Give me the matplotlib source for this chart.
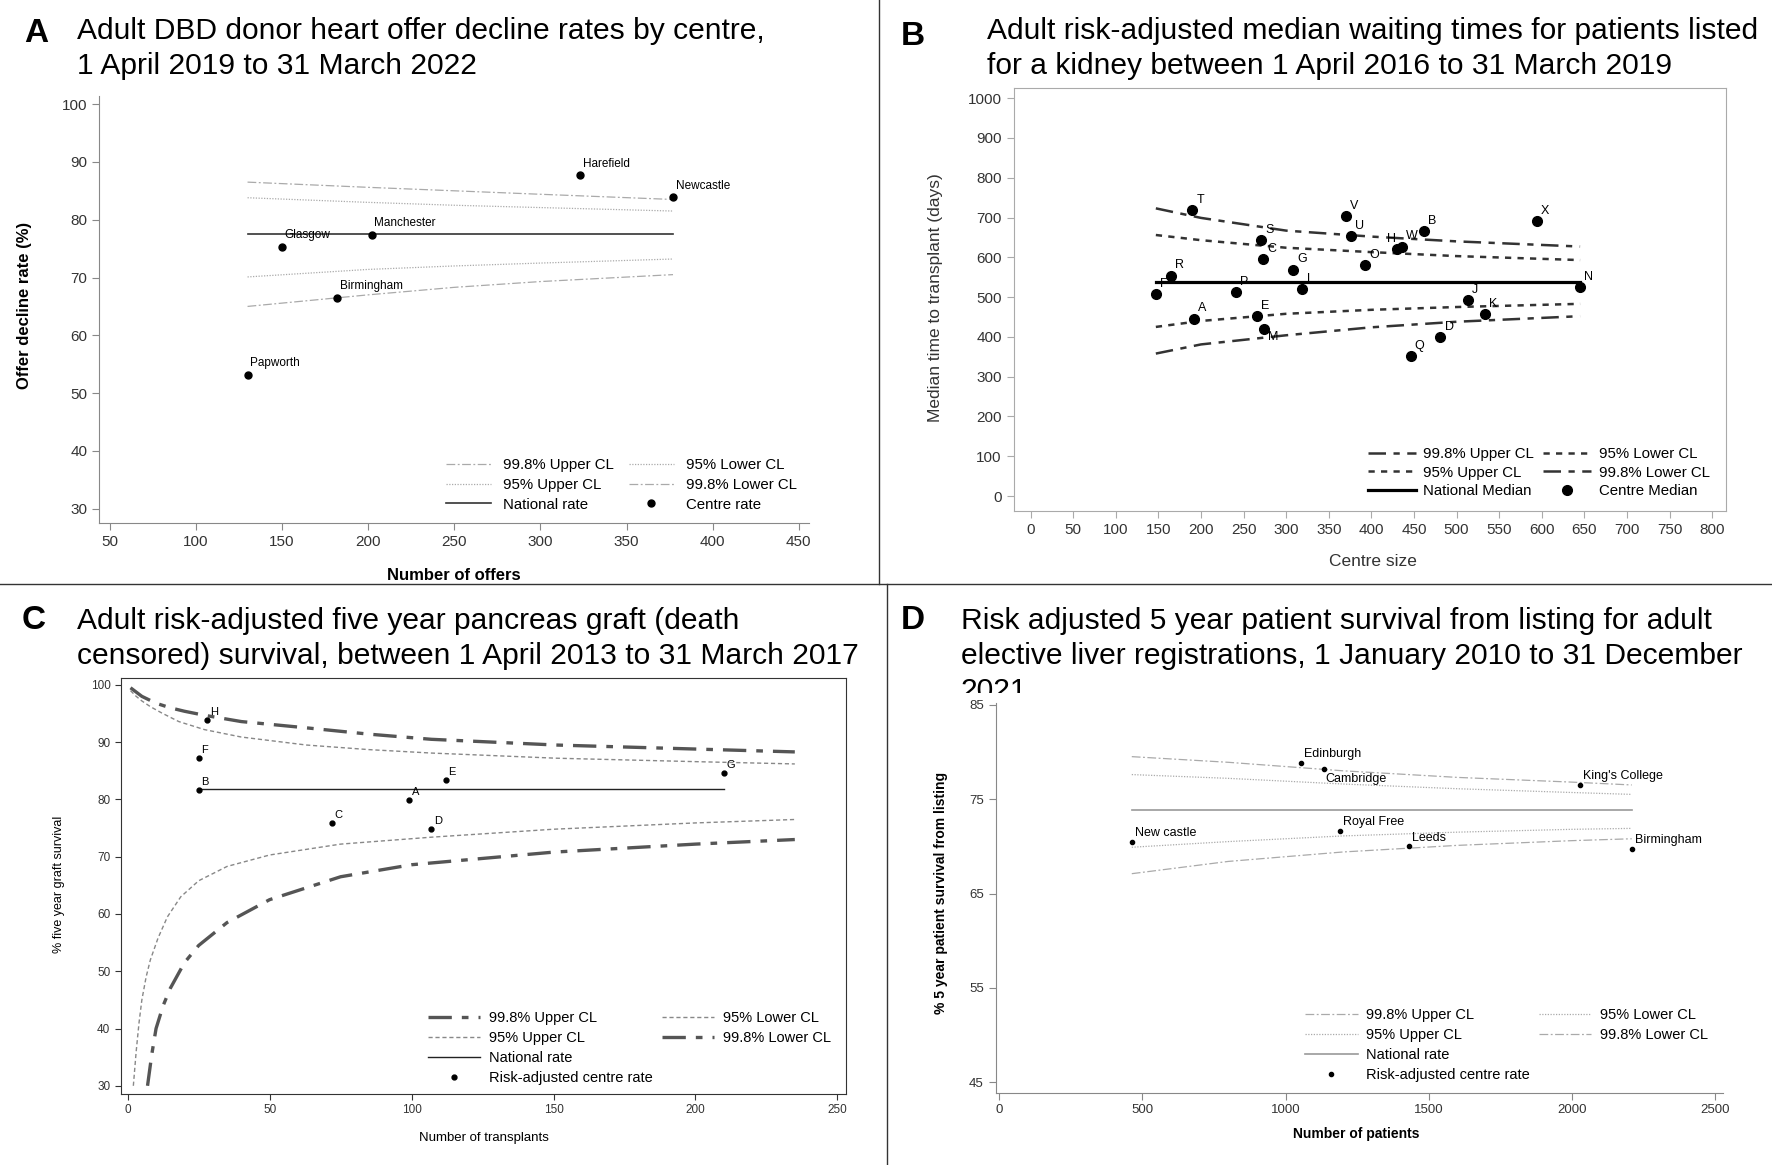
import matplotlib
matplotlib.use("Agg")
import matplotlib.pyplot as plt
from matplotlib.lines import Line2D
from matplotlib.patches import Rectangle

plt.rcParams['font.family'] = ['Liberation Sans', 'DejaVu Sans']

# ---------------- data ----------------
# A: heart offer decline rates
a_centres = ["Papworth", "Glasgow", "Birmingham", "Manchester", "Harefield", "Newcastle"]
a_offers = [130, 150, 182, 202, 323, 377]
a_rate = [53.2, 75.3, 66.5, 77.4, 87.7, 83.9]
a_national = 77.6
a_cl_x = [130, 200, 250, 300, 377]
a_upper998 = [86.5, 85.6, 85.0, 84.4, 83.5]
a_upper95 = [83.8, 83.0, 82.5, 82.1, 81.5]
a_lower95 = [70.1, 71.4, 72.0, 72.5, 73.2]
a_lower998 = [65.0, 67.0, 68.3, 69.3, 70.5]

# B: kidney waiting times
b_centres = ["A", "B", "C", "D", "E", "F", "G", "H", "J", "K", "L", "M",
             "N", "O", "P", "Q", "R", "S", "T", "U", "V", "W", "X"]
b_size = [192, 462, 273, 481, 266, 147, 308, 430, 513, 533, 319, 274,
          645, 393, 241, 446, 165, 271, 190, 376, 370, 436, 594]
b_median = [446, 665, 595, 400, 452, 508, 569, 621, 493, 458, 521, 421,
            526, 580, 512, 352, 554, 643, 718, 653, 703, 627, 692]
b_national = 537
b_cl_x = [147, 200, 300, 400, 500, 645]
b_upper998 = [723, 699, 667, 652, 640, 627]
b_upper95 = [656, 643, 624, 613, 603, 593]
b_lower95 = [425, 440, 458, 468, 475, 483]
b_lower998 = [358, 381, 404, 424, 438, 452]

# C: pancreas graft survival
c_centres = ["A", "B", "C", "D", "E", "F", "G", "H"]
c_transplants = [99, 25, 72, 107, 112, 25, 210, 28]
c_survival = [79.9, 81.7, 75.9, 74.9, 83.4, 87.2, 84.6, 93.9]
c_national = 81.8
c_upper998_x = [1, 5, 10, 15, 20, 27, 40, 63, 85, 107, 151, 200, 235]
c_upper998 = [99.5, 98.0, 96.8, 96.0, 95.4, 94.7, 93.6, 92.5, 91.4, 90.5, 89.5, 88.8, 88.3]
c_upper95_x = [1, 3, 5, 8, 12, 18, 27, 40, 63, 85, 107, 151, 200, 235]
c_upper95 = [99.0, 98.0, 97.2, 96.2, 95.1, 93.6, 92.2, 90.9, 89.5, 88.7, 88.1, 87.2, 86.6, 86.2]
c_lower95_x = [2, 3, 4, 5, 6.5, 8, 10.7, 14, 18.7, 25, 35, 50, 75, 106.7, 150, 200, 235]
c_lower95 = [30, 36, 41, 45, 49, 52, 55.8, 59.5, 63, 65.8, 68.3, 70.3, 72.2, 73.4, 74.8, 75.9, 76.5]
c_lower998_x = [7, 8.5, 10, 12.5, 15, 20, 25, 35, 50, 75, 100, 150, 200, 235]
c_lower998 = [30, 35.5, 40, 44, 47, 51.5, 54.5, 58.5, 62.5, 66.5, 68.6, 70.8, 72.2, 73.0]

# D: liver patient survival
d_centres = ["New castle", "Edinburgh", "Cambridge", "Royal Free", "Leeds",
             "King's College", "Birmingham"]
d_patients = [463, 1055, 1135, 1190, 1430, 2027, 2208]
d_survival = [70.5, 78.8, 78.2, 71.6, 70.0, 76.5, 69.7]
d_national = 73.8
d_cl_x = [463, 800, 1200, 1600, 2000, 2208]
d_upper998 = [79.5, 78.9, 78.0, 77.3, 76.8, 76.5]
d_upper95 = [77.6, 77.2, 76.6, 76.1, 75.7, 75.5]
d_lower95 = [69.9, 70.5, 71.1, 71.5, 71.8, 71.9]
d_lower998 = [67.1, 68.4, 69.4, 70.1, 70.6, 70.8]

fig = plt.figure(figsize=(17.72, 11.65), dpi=100)

# panel dividers
fig.add_artist(Line2D([0.4962, 0.4962], [1.0, 0.4985], transform=fig.transFigure, color='#333333', lw=1))
fig.add_artist(Line2D([0.5006, 0.5006], [0.4985, 0.0], transform=fig.transFigure, color='#333333', lw=1))
fig.add_artist(Line2D([0.0, 1.0], [0.4985, 0.4985], transform=fig.transFigure, color='#333333', lw=1))

# panel letters and titles
for letter, x, y in [("A", 0.0204, 0.971), ("B", 0.5153, 0.969), ("C", 0.0191, 0.4675), ("D", 0.5153, 0.4675)]:
    fig.text(x, y, letter, fontsize=24, fontweight='bold', ha='center', va='center')

title_kw = dict(fontsize=21.6, va='top', ha='left', linespacing=1.33)
fig.text(0.0434, 0.9854, "Adult DBD donor heart offer decline rates by centre,\n1 April 2019 to 31 March 2022", **title_kw)
fig.text(0.5568, 0.9854, "Adult risk-adjusted median waiting times for patients listed\nfor a kidney between 1 April 2016 to 31 March 2019", **title_kw)
fig.text(0.0434, 0.479, "Adult risk-adjusted five year pancreas graft (death\ncensored) survival, between 1 April 2013 to 31 March 2017", **title_kw)
fig.text(0.5421, 0.479, "Risk adjusted 5 year patient survival from listing for adult\nelective liver registrations, 1 January 2010 to 31 December\n2021",
         zorder=1, **title_kw)
# the liver chart area hides the bottom of the last title line
fig.add_artist(Rectangle((0.53, 0.3967), 0.46, 0.0087, transform=fig.transFigure,
                         facecolor='white', edgecolor='none', zorder=2))


def blank():
    return Line2D([], [], color='none')


# ---------------- A ----------------
ax = fig.add_axes([0.0561, 0.5509, 0.4005, 0.3667])
ls998 = (0, (7, 2, 1.5, 2))
ls95 = (0, (1, 1.2))
ax.plot(a_cl_x, a_upper998, color='#aaaaaa', lw=0.9, ls=ls998)
ax.plot(a_cl_x, a_upper95, color='#aaaaaa', lw=0.9, ls=ls95)
ax.plot(a_cl_x, a_lower95, color='#aaaaaa', lw=0.9, ls=ls95)
ax.plot(a_cl_x, a_lower998, color='#aaaaaa', lw=0.9, ls=ls998)
ax.plot([a_offers[0], a_offers[-1]], [a_national, a_national], color='#333333', lw=1.2)
ax.plot(a_offers, a_rate, 'o', color='black', ms=5)
for name, x, y in zip(a_centres, a_offers, a_rate):
    ax.annotate(name, (x, y), xytext=(2, 4), textcoords='offset points', fontsize=8.5, ha='left', va='bottom')
ax.set_xlim(44, 456)
ax.set_ylim(27.5, 101.4)
ax.set_xticks(range(50, 451, 50))
ax.set_yticks(range(30, 101, 10))
for s in ['top', 'right']:
    ax.spines[s].set_visible(False)
for s in ['left', 'bottom']:
    ax.spines[s].set_color('#888888')
ax.tick_params(colors='#888888', labelcolor='#333333', labelsize=11, length=5)
ax.set_ylabel("Offer decline rate (%)", fontsize=12, fontweight='bold', va='center')
ax.yaxis.set_label_coords(-0.105, 0.51)
ax.set_xlabel("Number of offers", fontsize=12, fontweight='bold', va='center')
ax.xaxis.set_label_coords(0.50, -0.122)
h = [Line2D([], [], color='#aaaaaa', lw=0.9, ls=ls998), Line2D([], [], color='#aaaaaa', lw=0.9, ls=ls95),
     Line2D([], [], color='#333333', lw=1.2), Line2D([], [], color='#aaaaaa', lw=0.9, ls=ls95),
     Line2D([], [], color='#aaaaaa', lw=0.9, ls=ls998), Line2D([], [], color='black', marker='o', ls='none', ms=5)]
lab = ["99.8% Upper CL", "95% Upper CL", "National rate", "95% Lower CL", "99.8% Lower CL", "Centre rate"]
ax.legend(h, lab, ncol=2, frameon=False, fontsize=10.8, handlelength=3.0, labelspacing=0.38,
          columnspacing=1.0, loc='lower right', bbox_to_anchor=(0.454, 0.5545), bbox_transform=fig.transFigure,
          borderpad=0, handletextpad=0.8)

# ---------------- B ----------------
ax = fig.add_axes([0.572, 0.5616, 0.4019, 0.3627])
ls998 = (0, (7, 3, 2.5, 3))
ls95 = (0, (2.5, 2.5))
ax.plot(b_cl_x, b_upper998, color='#333333', lw=1.8, ls=ls998)
ax.plot(b_cl_x, b_upper95, color='#333333', lw=1.8, ls=ls95)
ax.plot(b_cl_x, b_lower95, color='#333333', lw=1.8, ls=ls95)
ax.plot(b_cl_x, b_lower998, color='#333333', lw=1.8, ls=ls998)
ax.plot([b_cl_x[0], b_cl_x[-1]], [b_national, b_national], color='black', lw=2.3)
ax.plot(b_size, b_median, 'o', color='black', ms=7)
for name, x, y in zip(b_centres, b_size, b_median):
    off, ha, va = (3, 3), 'left', 'bottom'
    if name == 'M':
        off, va = (3, -2), 'top'
    elif name == 'H':
        off, ha = (-1, 3), 'right'
    ax.annotate(name, (x, y), xytext=off, textcoords='offset points', fontsize=9, ha=ha, va=va)
ax.set_xlim(-20, 816)
ax.set_ylim(-37, 1025)
ax.set_xticks(range(0, 801, 50))
ax.set_yticks(range(0, 1001, 100))
for s in ax.spines.values():
    s.set_color('#aaaaaa')
ax.tick_params(colors='#aaaaaa', labelcolor='#333333', labelsize=11, length=5)
ax.set_ylabel("Median time to transplant (days)", fontsize=12.5, color='#333333', va='center')
ax.yaxis.set_label_coords(-0.1095, 0.505)
ax.set_xlabel("Centre size", fontsize=12.5, color='#333333', va='center')
ax.xaxis.set_label_coords(0.505, -0.12)
h = [Line2D([], [], color='#333333', lw=1.8, ls=ls998), Line2D([], [], color='#333333', lw=1.8, ls=ls95),
     Line2D([], [], color='black', lw=2.3), Line2D([], [], color='#333333', lw=1.8, ls=ls95),
     Line2D([], [], color='#333333', lw=1.8, ls=ls998), Line2D([], [], color='black', marker='o', ls='none', ms=7)]
lab = ["99.8% Upper CL", "95% Upper CL", "National Median", "95% Lower CL", "99.8% Lower CL", "Centre Median"]
ax.legend(h, lab, ncol=2, frameon=False, fontsize=10.8, handlelength=3.2, labelspacing=0.3,
          columnspacing=0.6, loc='lower right', bbox_to_anchor=(0.969, 0.566), bbox_transform=fig.transFigure,
          borderpad=0, handletextpad=0.5)

# ---------------- C ----------------
ax = fig.add_axes([0.0682, 0.0611, 0.4095, 0.3569])
ls998 = (0, (7, 3, 2, 3))
ls95 = (0, (3, 2))
ax.plot(c_upper998_x, c_upper998, color='#555555', lw=2.4, ls=ls998)
ax.plot(c_upper95_x, c_upper95, color='#888888', lw=1.0, ls=ls95)
ax.plot(c_lower95_x, c_lower95, color='#888888', lw=1.0, ls=ls95)
ax.plot(c_lower998_x, c_lower998, color='#555555', lw=2.4, ls=ls998)
ax.plot([25, 210], [c_national, c_national], color='#222222', lw=1.0)
ax.plot(c_transplants, c_survival, 'o', color='black', ms=3.5)
for name, x, y in zip(c_centres, c_transplants, c_survival):
    ax.annotate(name, (x, y), xytext=(2, 2), textcoords='offset points', fontsize=8, ha='left', va='bottom')
ax.set_xlim(-2.4, 253.2)
ax.set_ylim(28.6, 101.2)
ax.set_xticks(range(0, 251, 50))
ax.set_yticks(range(30, 101, 10))
for s in ax.spines.values():
    s.set_color('#333333')
ax.tick_params(colors='#333333', labelsize=8.5, length=4)
ax.set_ylabel("% five year graft survival", fontsize=9, va='center')
ax.yaxis.set_label_coords(-0.0857, 0.503)
ax.set_xlabel("Number of transplants", fontsize=9.5, va='center')
ax.xaxis.set_label_coords(0.50, -0.106)
h = [Line2D([], [], color='#555555', lw=2.4, ls=ls998), Line2D([], [], color='#888888', lw=1.0, ls=ls95),
     Line2D([], [], color='#222222', lw=1.0), Line2D([], [], color='black', marker='o', ls='none', ms=3.5),
     Line2D([], [], color='#888888', lw=1.0, ls=ls95), Line2D([], [], color='#555555', lw=2.4, ls=ls998), blank()]
lab = ["99.8% Upper CL", "95% Upper CL", "National rate", "Risk-adjusted centre rate",
       "95% Lower CL", "99.8% Lower CL", ""]
ax.legend(h, lab, ncol=2, frameon=False, fontsize=10.5, handlelength=3.6, labelspacing=0.4,
          columnspacing=0.6, loc='lower right', bbox_to_anchor=(0.473, 0.0625), bbox_transform=fig.transFigure,
          borderpad=0, handletextpad=0.6)

# ---------------- D ----------------
ax = fig.add_axes([0.5619, 0.0621, 0.4107, 0.3346])
ax.set_zorder(3)
ls998 = (0, (7, 2, 1.5, 2))
ls95 = (0, (1, 1.2))
ax.plot(d_cl_x, d_upper998, color='#aaaaaa', lw=0.9, ls=ls998)
ax.plot(d_cl_x, d_upper95, color='#aaaaaa', lw=0.9, ls=ls95)
ax.plot(d_cl_x, d_lower95, color='#aaaaaa', lw=0.9, ls=ls95)
ax.plot(d_cl_x, d_lower998, color='#aaaaaa', lw=0.9, ls=ls998)
ax.plot([d_cl_x[0], d_cl_x[-1]], [d_national, d_national], color='#999999', lw=1.2)
ax.plot(d_patients, d_survival, 'o', color='black', ms=3)
for name, x, y in zip(d_centres, d_patients, d_survival):
    if name == 'Cambridge':
        ax.annotate(name, (x, y), xytext=(1, -3), textcoords='offset points', fontsize=9, ha='left', va='top')
    else:
        ax.annotate(name, (x, y), xytext=(2, 2), textcoords='offset points', fontsize=9, ha='left', va='bottom')
ax.set_xlim(-12, 2528)
ax.set_ylim(43.9, 85.2)
ax.set_xticks(range(0, 2501, 500))
ax.set_yticks(range(45, 86, 10))
for s in ['top', 'right']:
    ax.spines[s].set_visible(False)
for s in ['left', 'bottom']:
    ax.spines[s].set_color('#888888')
ax.tick_params(colors='#888888', labelcolor='#333333', labelsize=9.5, length=5)
ax.set_ylabel("% 5 year patient survival from listing", fontsize=10, fontweight='bold', va='center')
ax.yaxis.set_label_coords(-0.0745, 0.513)
ax.set_xlabel("Number of patients", fontsize=10, fontweight='bold', va='center')
ax.xaxis.set_label_coords(0.495, -0.107)
h = [Line2D([], [], color='#aaaaaa', lw=0.9, ls=ls998), Line2D([], [], color='#aaaaaa', lw=0.9, ls=ls95),
     Line2D([], [], color='#999999', lw=1.2), Line2D([], [], color='black', marker='o', ls='none', ms=3),
     Line2D([], [], color='#aaaaaa', lw=0.9, ls=ls95), Line2D([], [], color='#aaaaaa', lw=0.9, ls=ls998), blank()]
lab = ["99.8% Upper CL", "95% Upper CL", "National rate", "Risk-adjusted centre rate",
       "95% Lower CL", "99.8% Lower CL", ""]
ax.legend(h, lab, ncol=2, frameon=False, fontsize=10.5, handlelength=3.6, labelspacing=0.4,
          columnspacing=0.6, loc='lower right', bbox_to_anchor=(0.968, 0.065), bbox_transform=fig.transFigure,
          borderpad=0, handletextpad=0.6)

fig.savefig("out.png", dpi=100)
